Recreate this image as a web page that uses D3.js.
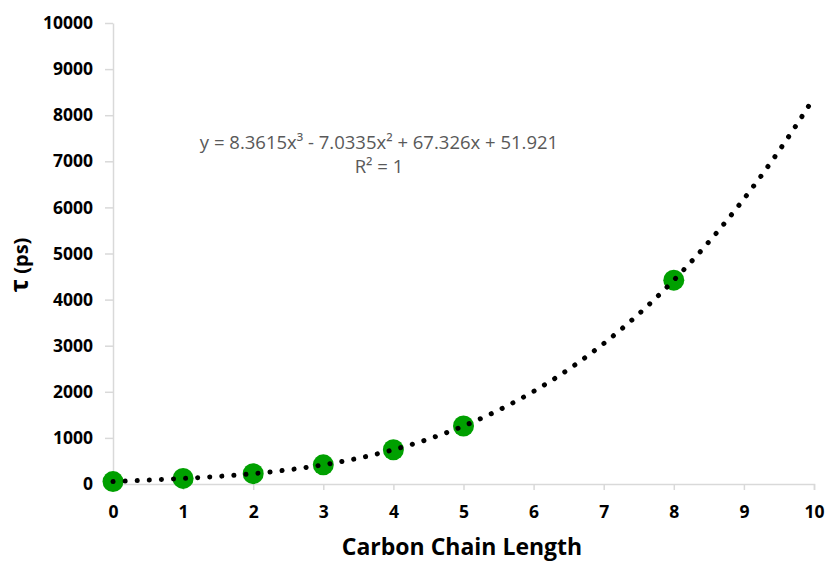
<!DOCTYPE html>
<head>
  <meta charset="utf-8">
  <script src="https://d3js.org/d3.v7.min.js"></script>
  <style>
    body { margin:0; background:#fff; }
    .axis path, .axis line { stroke:#d9d9d9; stroke-width:1.5; }
    .axis text { font-family:"Open Sans", sans-serif; font-weight:bold; font-size:17.5px; fill:#000; }
  </style>
</head>
<body>
  <div class="chart"></div>
  <script>
    // measured points
    const chainLength = [0, 1, 2, 3, 4, 5, 8];
    const tau = [52, 121, 225, 416, 744, 1258, 4422];

    // cubic trendline coefficients (x^3, x^2, x, const) as printed on chart
    const coeffs = [8.3615, -7.0335, 67.326, 51.921];
    const eqLines = ['y = 8.3615x³ - 7.0335x² + 67.326x + 51.921', 'R² = 1'];

    const xTicks = [0, 1, 2, 3, 4, 5, 6, 7, 8, 9, 10];
    const yTicks = [0, 1000, 2000, 3000, 4000, 5000, 6000, 7000, 8000, 9000, 10000];

    const width = 826, height = 561;
    const margin = { top: 23, right: 12, bottom: 77, left: 113 };

    const svg = d3.select('.chart')
      .append('svg')
        .attr('width', width)
        .attr('height', height);

    const x = d3.scaleLinear()
      .domain([0, 10])
      .range([margin.left, width - margin.right]);

    const y = d3.scaleLinear()
      .domain([0, 10000])
      .range([height - margin.bottom, margin.top]);

    svg.append('g')
      .attr('class', 'axis')
      .attr('transform', `translate(0,${y(0)})`)
      .call(d3.axisBottom(x).tickValues(xTicks).tickSizeInner(6).tickSizeOuter(6).tickPadding(12))
      .call(g => g.selectAll('text').attr('dy', '0.9em'));

    svg.append('g')
      .attr('class', 'axis')
      .attr('transform', `translate(${x(0)},0)`)
      .call(d3.axisLeft(y).tickValues(yTicks).tickFormat(d3.format('d')).tickSizeInner(8).tickSizeOuter(0).tickPadding(12));

    // trendline
    const poly = t => coeffs[0] * t * t * t + coeffs[1] * t * t + coeffs[2] * t + coeffs[3];
    const curve = d3.range(0, 10.001, 0.05).map(t => [t, poly(t)]);

    // points first, dotted trendline on top
    svg.append('g')
      .selectAll('circle')
      .data(chainLength)
      .join('circle')
        .attr('cx', d => x(d))
        .attr('cy', (d, i) => y(tau[i]))
        .attr('r', 10.5)
        .attr('fill', '#00a000');

    svg.append('path')
      .datum(curve)
      .attr('fill', 'none')
      .attr('stroke', '#000')
      .attr('stroke-width', 5)
      .attr('stroke-linecap', 'round')
      .attr('stroke-dasharray', '0.1 12')
      .attr('d', d3.line().x(d => x(d[0])).y(d => y(d[1])));

    // equation label
    svg.append('text')
      .attr('x', 379)
      .attr('y', 149)
      .attr('text-anchor', 'middle')
      .style('font-family', '"Open Sans", sans-serif')
      .style('font-size', '18.5px')
      .attr('fill', '#595959')
      .selectAll('tspan')
      .data(eqLines)
      .join('tspan')
        .attr('x', 379)
        .attr('dy', (d, i) => i ? 24 : 0)
        .text(d => d);

    // axis titles
    svg.append('text')
      .attr('x', 462)
      .attr('y', 555)
      .attr('text-anchor', 'middle')
      .style('font-family', '"Open Sans", sans-serif')
      .style('font-weight', 'bold')
      .style('font-size', '23px')
      .text('Carbon Chain Length');

    const yTitle = svg.append('text')
      .attr('transform', 'translate(28,265) rotate(-90)')
      .attr('text-anchor', 'middle')
      .style('font-family', '"Open Sans", sans-serif')
      .style('font-weight', 'bold');
    yTitle.append('tspan').style('font-size', '25px').text('τ');
    yTitle.append('tspan').style('font-size', '20px').text(' (ps)');
  </script>
</body>
